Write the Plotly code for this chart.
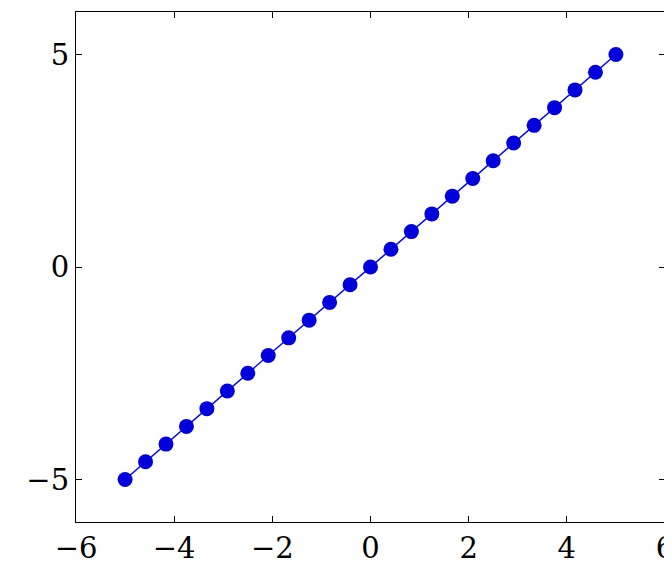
import plotly.graph_objects as go

x_vals = [-5.0, -4.5833, -4.1667, -3.75, -3.3333, -2.9167, -2.5, -2.0833, -1.6667, -1.25,
          -0.8333, -0.4167, 0.0, 0.4167, 0.8333, 1.25, 1.6667, 2.0833, 2.5, 2.9167,
          3.3333, 3.75, 4.1667, 4.5833, 5.0]
y_vals = [-5.0, -4.5833, -4.1667, -3.75, -3.3333, -2.9167, -2.5, -2.0833, -1.6667, -1.25,
          -0.8333, -0.4167, 0.0, 0.4167, 0.8333, 1.25, 1.6667, 2.0833, 2.5, 2.9167,
          3.3333, 3.75, 4.1667, 4.5833, 5.0]
x_ticks = [-6, -4, -2, 0, 2, 4, 6]
y_ticks = [-5, 0, 5]

fig = go.Figure(go.Scatter(x=x_vals, y=y_vals, mode="lines+markers", cliponaxis=False,
                           line=dict(color="#0000ff", width=1.5),
                           marker=dict(color="#0000dd", size=15)))
ax = dict(showgrid=False, zeroline=False, showline=True, linecolor="black", linewidth=1.2,
          mirror="ticks", ticks="inside", ticklen=6, tickcolor="black", automargin=False,
          tickfont=dict(family="DejaVu Serif", size=29, color="black"))
fig.update_xaxes(range=[-6, 6], tickvals=x_ticks, ticktext=[("−" + str(-t)) if t < 0 else str(t) for t in x_ticks], **ax)
fig.update_yaxes(range=[-6, 6], tickvals=y_ticks, ticktext=[("−" + str(-t)) if t < 0 else str(t) for t in y_ticks], **ax)
fig.update_layout(width=672, height=561, margin=dict(l=68, r=15, t=4, b=47),
                  plot_bgcolor="white", paper_bgcolor="white", showlegend=False)
fig.write_html("out.html")
